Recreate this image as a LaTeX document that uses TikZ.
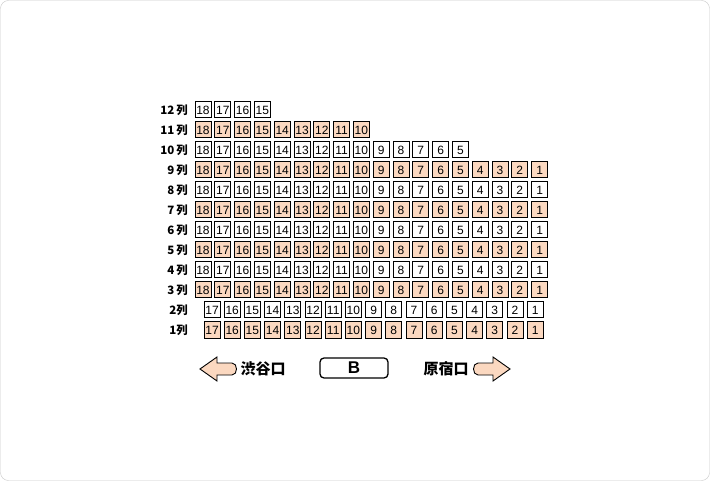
\documentclass[tikz,border=0pt]{standalone}
\usepackage{fontspec}
\setmainfont{Liberation Sans}
\newfontfamily\jpfont{Noto Sans CJK JP}
\usetikzlibrary{positioning}
\definecolor{seatpeach}{RGB}{251,216,192}
\definecolor{framegray}{RGB}{200,200,200}

\begin{document}
\begin{tikzpicture}[x=1pt,y=-1pt]
            \tikzstyle{seat}=[draw=black, line width=1pt, minimum width=16pt, minimum height=16pt, inner sep=0pt, font=\fontsize{12}{12}\selectfont]
            \tikzstyle{taken}=[seat, fill=seatpeach]
            \tikzstyle{rowlabel}=[anchor=east, inner sep=0pt, font=\jpfont\bfseries\fontsize{11.5}{12}\selectfont]
            \tikzstyle{exitlabel}=[inner sep=0pt, font=\jpfont\bfseries\fontsize{15}{15}\selectfont]
            \tikzstyle{exitarrow}=[fill=seatpeach, draw=black, line width=0.9pt, line join=miter]
            \useasboundingbox (0,0) rectangle (710,481);
            \draw [framegray, rounded corners=8pt] (0.5,0.5) rectangle (709.5,480.5);
            % rows 3 to 12, seats 18 down to the last one
            \foreach \r/\last/\sty in {12/15/seat, 11/10/taken, 10/5/seat, 9/1/taken, 8/1/seat, 7/1/taken, 6/1/seat, 5/1/taken, 4/1/seat, 3/1/taken} {
              \pgfmathsetmacro\ry{110+(12-\r)*20}
              \node [rowlabel] (row\r) at (188,\ry) {\r\,列};
              \foreach \n in {18,...,\last} {
                \pgfmathsetmacro\sx{203+(18-\n)*19.8}
                \node [\sty] (s\r-\n) at (\sx,\ry) {\n};
              }
            }
            % rows 1 and 2 start at 17
            \foreach \r/\sty in {2/seat, 1/taken} {
              \pgfmathsetmacro\ry{110+(12-\r)*20}
              \node [rowlabel] (row\r) at (188,\ry) {\r{}列};
              \foreach \n in {17,...,1} {
                \pgfmathsetmacro\sx{212+(17-\n)*20.2}
                \node [\sty] (s\r-\n) at (\sx,\ry) {\n};
              }
            }
            % exits
            \filldraw [exitarrow] (200,369) -- (217,357) -- (217,363) -- (232,363) .. controls (238,363) and (238,375) .. (232,375) -- (217,375) -- (217,381) -- cycle;
            \node [exitlabel] (shibuya) at (263,369) {渋谷口};
            \node [draw=black, line width=1.3pt, rounded corners=4pt, minimum width=68pt, minimum height=20pt, font=\bfseries\fontsize{17}{17}\selectfont] (gate) at (354,368) {B};
            \node [exitlabel] (harajuku) at (446,369) {原宿口};
            \filldraw [exitarrow] (510,369) -- (493,357) -- (493,363) -- (478,363) .. controls (472,363) and (472,375) .. (478,375) -- (493,375) -- (493,381) -- cycle;
\end{tikzpicture}
\end{document}
